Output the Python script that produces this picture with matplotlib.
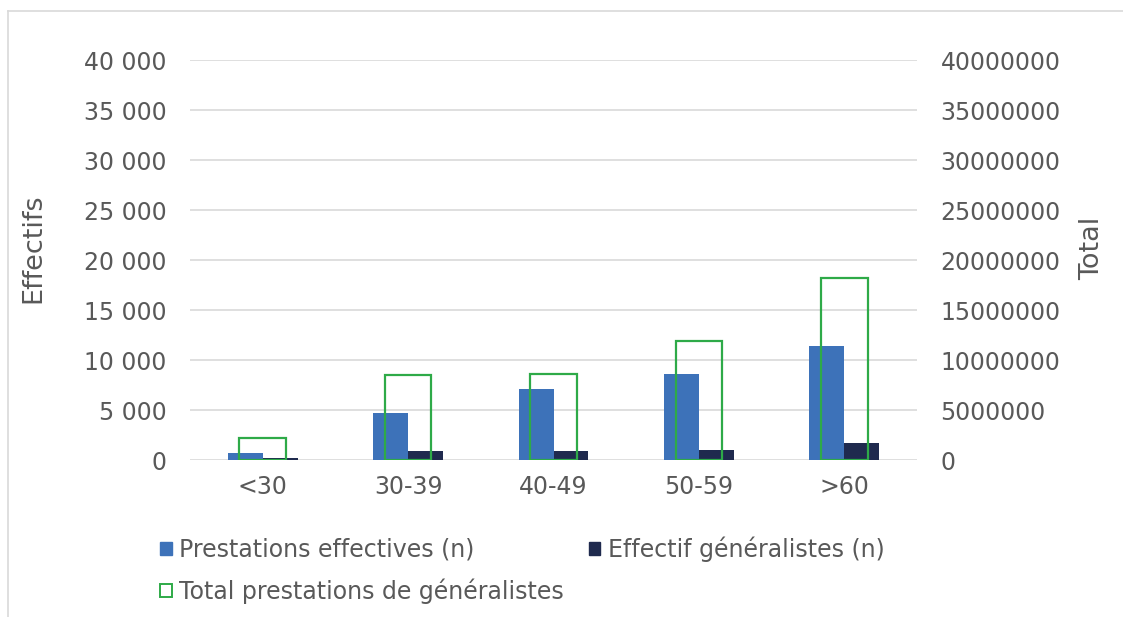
from matplotlib import pyplot as plt
from matplotlib.lines import Line2D
from matplotlib.patches import Patch
from matplotlib.ticker import FuncFormatter
import numpy as np

# %% Data per age group

ages = ['<30','30-39','40-49','50-59','>60']
prestations = [750,4730,7070,8630,11430]
effectif = [230,870,900,1000,1730]
total = [2170000,8470000,8630000,11930000,18230000]

# %% Styles

blue = '#3D72B9'
navy = '#1F2A4E'
green = '#2EAA48'
grey = '#595959'
plt.rcParams['font.family'] = 'DejaVu Sans'

fig = plt.figure(figsize=(11.23,6.17),dpi=100)
ax = fig.add_axes([190/1123,157/617,727/1123,400/617])
ax2 = ax.twinx()

# Outer frame of the chart area

fig.add_artist(Line2D([8/1123,8/1123],[0,1-11/617],color='#D9D9D9',lw=1.2))
fig.add_artist(Line2D([8/1123,1],[1-11/617,1-11/617],color='#D9D9D9',lw=1.2))

# Bars on the left axis, outlined totals on the right one

x = np.arange(len(ages))
w = 0.24
ax.bar(x-w/2,prestations,w,color=blue,label='Prestations effectives (n)',zorder=3)
ax.bar(x+w/2,effectif,w,color=navy,label='Effectif généralistes (n)',zorder=3)
ax2.bar(x,total,0.32,fill=False,edgecolor=green,lw=1.6,label='Total prestations de généralistes',zorder=3)

ax.set_xlim(-0.5,len(ages)-0.5)
ax.set_ylim(0,40000)
ax2.set_ylim(0,40000000)
ax.set_yticks(np.arange(0,40001,5000))
ax2.set_yticks(np.arange(0,40000001,5000000))
ax.yaxis.set_major_formatter(FuncFormatter(lambda v,p: f'{int(v):,}'.replace(',',' ')))
ax2.yaxis.set_major_formatter(FuncFormatter(lambda v,p: f'{int(v)}'))
ax.set_xticks(x)
ax.set_xticklabels(ages)

ax.grid(axis='y',color='#D9D9D9',lw=1.2,zorder=0)
ax.set_axisbelow(True)
for a in (ax,ax2):
    for s in a.spines.values(): s.set_visible(False)
    a.tick_params(length=0,labelsize=17,colors=grey)
ax.tick_params(axis='y',pad=17)
ax2.tick_params(axis='y',pad=17)
ax.tick_params(axis='x',pad=11)

ax.set_ylabel('Effectifs',fontsize=19.5,color=grey)
ax2.set_ylabel('Total',fontsize=19.5,color=grey)
ax.yaxis.set_label_coords(-0.197,0.53)
ax2.yaxis.set_label_coords(1.223,0.53)

# Legend below the plot

h1,l1 = ax.get_legend_handles_labels()
handles = [Patch(color=blue),Patch(facecolor='white',edgecolor=green,lw=1.4),Patch(color=navy)]
labels = [l1[0],'Total prestations de généralistes',l1[1]]
fig.legend(handles,labels,ncol=2,loc='upper left',bbox_to_anchor=(139/1123,1-515/617),
           frameon=False,fontsize=17,labelcolor=grey,handlelength=0.5,handleheight=0.5,
           handletextpad=0.3,columnspacing=1.05,labelspacing=0.70)

plt.savefig('out.png',dpi=100)
